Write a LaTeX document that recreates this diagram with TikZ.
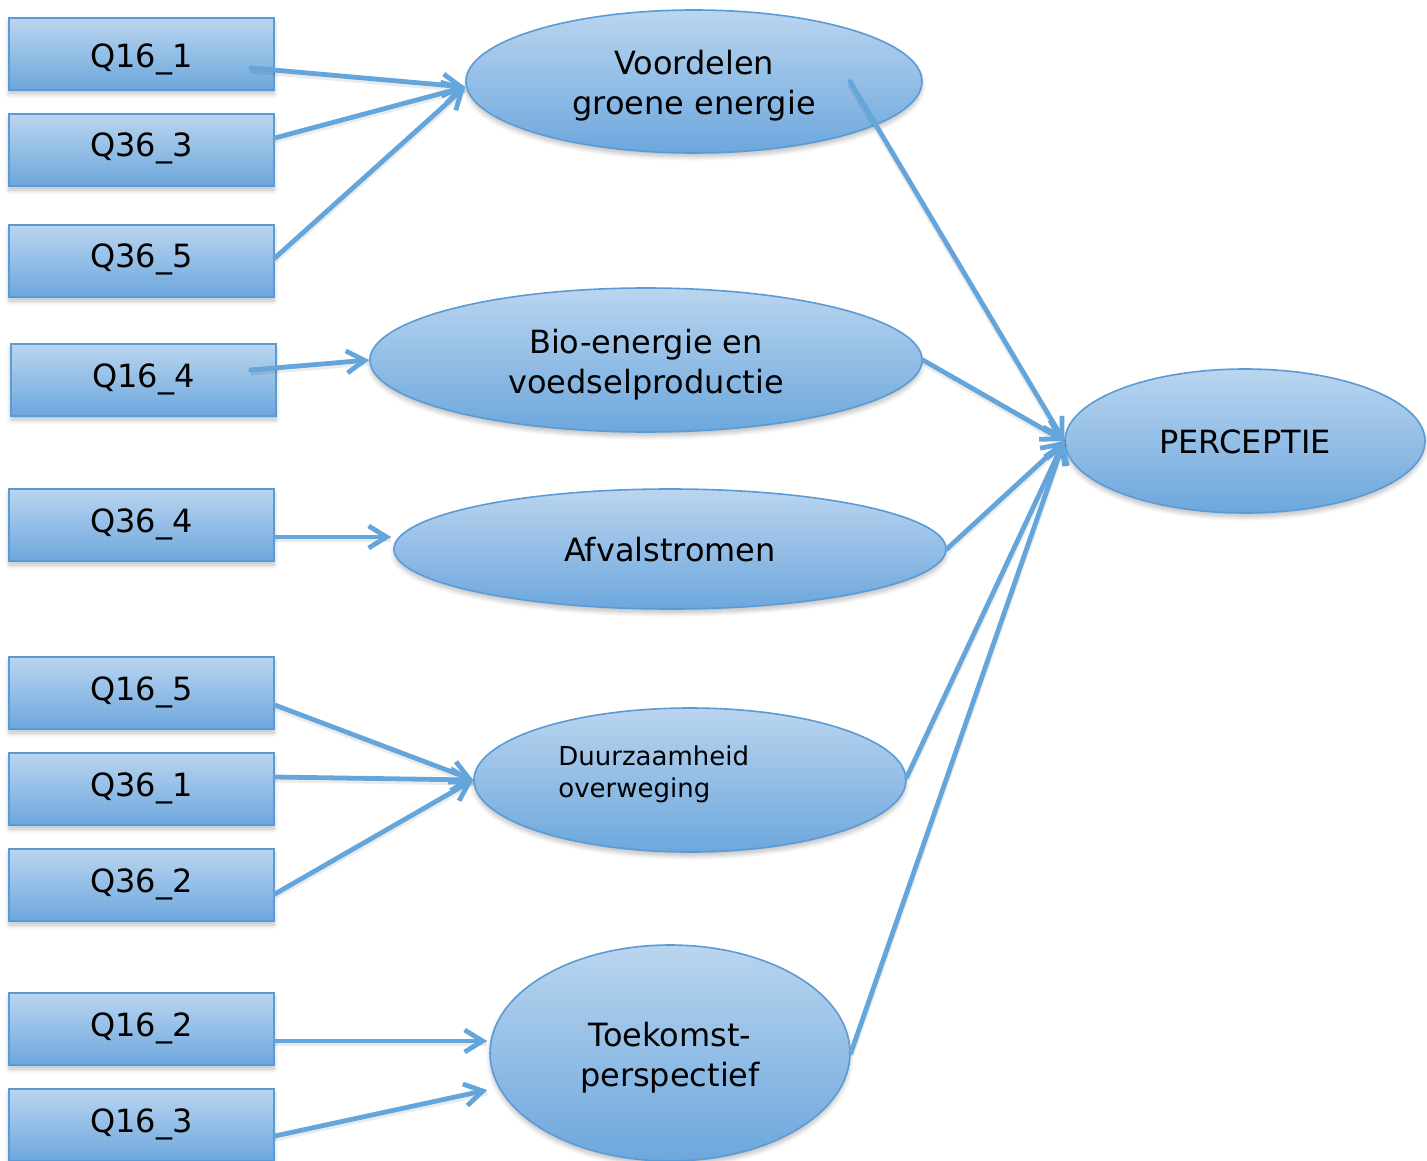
\documentclass[tikz,border=0pt]{standalone}
\usepackage{fontspec}
\setmainfont{DejaVu Sans}
\usetikzlibrary{shapes.geometric,arrows.meta,shadows.blur,calc}
\definecolor{edgec}{RGB}{91,155,213}
\definecolor{linec}{RGB}{100,165,220}
\definecolor{topc}{RGB}{186,213,239}
\definecolor{botc}{RGB}{108,167,221}
\begin{document}
\begin{tikzpicture}[x=0.5pt,y=-0.5pt,
  softshadow/.style={blur shadow={shadow xshift=0pt, shadow yshift=-2pt, shadow opacity=25, shadow blur steps=6}},
  qbox/.style={rectangle, draw=edgec, line width=0.8pt, top color=topc, bottom color=botc,
    minimum width=132.5pt, minimum height=36pt, inner sep=0pt,
    text height=12pt, text depth=5pt,
    font=\fontsize{16}{20}\selectfont, softshadow},
  lat/.style={ellipse, draw=edgec, line width=0.8pt, top color=topc, bottom color=botc,
    inner sep=0pt, softshadow},
  lattext/.style={inner sep=0pt, align=center, font=\fontsize{16}{20}\selectfont},
  onetext/.style={inner sep=0pt, text height=12pt, text depth=0pt, font=\fontsize{16}{20}\selectfont},
  conn/.style={draw=linec, line width=2.4pt, line cap=round,
    -{Straight Barb[length=9pt,width=11pt,line width=2.4pt]},
    preaction={draw=black, draw opacity=0.08, line width=3pt, transform canvas={yshift=-1.2pt}, -}}]
\useasboundingbox (0,0) rectangle (1427,1160);

% indicator boxes
\node[qbox, text height=13.7pt, text depth=0pt] (q161) at (141.5,54) {Q16\_1};
\node[qbox] (q363) at (141.5,150) {Q36\_3};
\node[qbox] (q365) at (141.5,261) {Q36\_5};
\node[qbox] (q164) at (143.5,380) {Q16\_4};
\node[qbox] (q364) at (141.5,525) {Q36\_4};
\node[qbox] (q165) at (141.5,693) {Q16\_5};
\node[qbox] (q361) at (141.5,789) {Q36\_1};
\node[qbox] (q362) at (141.5,885) {Q36\_2};
\node[qbox] (q162) at (141.5,1029) {Q16\_2};
\node[qbox] (q163) at (141.5,1125) {Q16\_3};

% latent ellipses
\node[lat, minimum width=228pt, minimum height=71.5pt] (vge) at (694,81.5) {};
\node[lat, minimum width=276pt, minimum height=72pt] (bio) at (646,360) {};
\node[lat, minimum width=276pt, minimum height=60pt] (afv) at (670,549) {};
\node[lat, minimum width=216pt, minimum height=72pt] (duu) at (690,780) {};
\node[lat, minimum width=180pt, minimum height=108pt] (toe) at (670,1053) {};
\node[lat, minimum width=180pt, minimum height=72pt] (per) at (1245,441) {};

% texts of latents
\node[lattext] (vget) at ([yshift=-2pt]vge.center) {Voordelen\\groene energie};
\node[lattext] (biot) at ([yshift=-2.5pt]bio.center) {Bio-energie en\\voedselproductie};
\node[onetext] (afvt) at (afv.center) {Afvalstromen};
\node[anchor=west, align=left, inner sep=0pt, font=\fontsize{13}{16}\selectfont] (duut) at (558,774.5) {Duurzaamheid\\overweging};
\node[lattext] (toet) at ([yshift=-2.5pt]toe.center) {Toekomst-\\perspectief};
\node[onetext] (pert) at (per.center) {PERCEPTIE};

% connectors to latents
\draw[conn] ([xshift=-12pt,yshift=-7pt]q161.east) -- ([yshift=-2.75pt]vge.west);
\draw[conn] ([yshift=6pt]q363.east) -- ([yshift=-2.75pt]vge.west);
\draw[conn] ([yshift=1.5pt]q365.east) -- ([yshift=-2.75pt]vge.west);
\draw[conn] ([xshift=-13pt,yshift=5pt]q164.east) -- (bio.west);
\draw[conn] ([yshift=-6pt]q364.east) -- ([xshift=-1pt,yshift=6pt]afv.west);
\draw[conn] ([yshift=-6pt]q165.east) -- (duu.west);
\draw[conn] ([yshift=6pt]q361.east) -- (duu.west);
\draw[conn] ([yshift=-4.5pt]q362.east) -- (duu.west);
\draw[conn] ([yshift=-6pt]q162.east) -- ([xshift=-1pt,yshift=6pt]toe.west);
\draw[conn] ([yshift=-5.5pt]q163.east) -- ([xshift=-1pt,yshift=-18.5pt]toe.west);

% connectors to PERCEPTIE
\draw[conn] ([xshift=78pt]vge.center) -- (per.west);
\draw[conn] (bio.east) -- (per.west);
\draw[conn] (afv.east) -- (per.west);
\draw[conn] ([yshift=1.5pt]duu.east) -- (per.west);
\draw[conn] (toe.east) -- (per.west);
\end{tikzpicture}
\end{document}
